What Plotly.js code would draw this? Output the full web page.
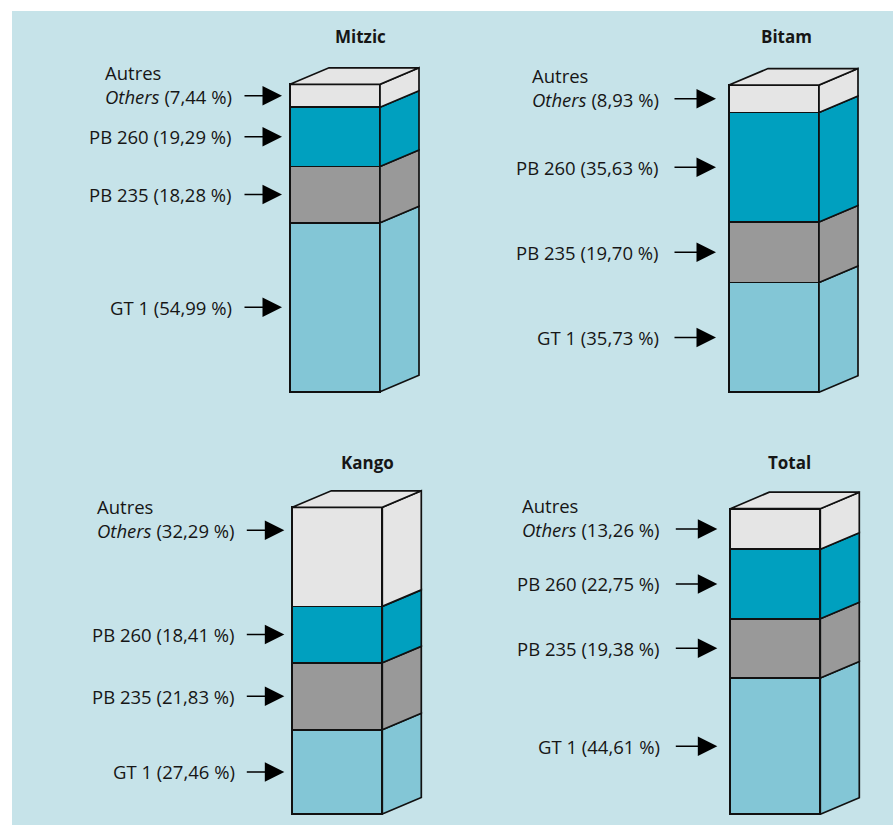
<!DOCTYPE html>
<html>
<head>
<meta charset="utf-8">
<script src="https://cdn.plot.ly/plotly-3.0.1.min.js"></script>
<style>html,body{margin:0;padding:0;background:#fff;}#chart{width:893px;height:825px;}</style>
</head>
<body>
<div id="chart"></div>
<script>
// ---- Data ----
const sites = ['Mitzic', 'Bitam', 'Kango', 'Total'];
const seriesNames = ['GT 1', 'PB 235', 'PB 260', 'Autres'];
const gt1    = [54.99, 35.73, 27.46, 44.61];
const pb235  = [18.28, 19.70, 21.83, 19.38];
const pb260  = [19.29, 35.63, 18.41, 22.75];
const autres = [7.44, 8.93, 32.29, 13.26];

// ---- Styles / layout constants (pixels) ----
const W = 893, H = 825;
const colors = ['#83c6d6', '#999999', '#00a0bf', '#e5e5e5'];
const topColor = '#e5e5e5';
const bgColor = '#c6e3e9';
const txtColor = '#161616';
const FONT = 'Open Sans, Noto Sans, sans-serif';
const LABEL_SIZE = 18.5;
const barW = 90, depthX = 39, depthY = 16.5;
const panels = [
  {domX: [12, 446], domY: [11, 418], bx: 290,   bottom: 391.7, top: 84.3,  title: [360, 37],  tip: 8,  len: 39, gap: 9},
  {domX: [446, 893], domY: [11, 418], bx: 729,   bottom: 392.3, top: 85,    title: [786, 37],  tip: 13, len: 43, gap: 12},
  {domX: [12, 446], domY: [418, 825], bx: 292.3, bottom: 814,   top: 507.3, title: [367, 462], tip: 8,  len: 39, gap: 8},
  {domX: [446, 893], domY: [418, 825], bx: 730.3, bottom: 814.3, top: 508.7, title: [789, 462], tip: 13, len: 43, gap: 12}
];

const seriesVals = [gt1, pb235, pb260, autres];
const fmt = v => v.toFixed(2).replace('.', ',') + ' %';

const traces = [];
const annotations = [];
const layout = {
  width: W, height: H,
  margin: {l: 0, r: 0, t: 0, b: 0},
  paper_bgcolor: '#ffffff',
  plot_bgcolor: 'rgba(0,0,0,0)',
  barmode: 'stack',
  showlegend: false,
  shapes: [{type: 'rect', xref: 'paper', yref: 'paper', layer: 'below',
            x0: 12 / W, x1: 1, y0: 0, y1: 1 - 11 / H,
            fillcolor: bgColor, line: {width: 0}}],
  annotations: annotations
};

panels.forEach((p, i) => {
  const n = i + 1;
  const xa = 'x' + (n === 1 ? '' : n), ya = 'y' + (n === 1 ? '' : n);
  const xk = 'xaxis' + (n === 1 ? '' : n), yk = 'yaxis' + (n === 1 ? '' : n);
  const sy = (p.bottom - p.top) / 100; // px per percent
  const dxu = depthX / barW, dyu = depthY / sy;
  layout[xk] = {domain: [p.domX[0] / W, p.domX[1] / W], range: [(p.domX[0] - p.bx) / barW, (p.domX[1] - p.bx) / barW],
                visible: false, fixedrange: true, anchor: ya};
  layout[yk] = {domain: [1 - p.domY[1] / H, 1 - p.domY[0] / H], range: [-(p.domY[1] - p.bottom) / sy, 100 + (p.top - p.domY[0]) / sy],
                visible: false, fixedrange: true, anchor: xa};

  // front faces (stacked bars)
  let base = 0;
  const segs = [];
  seriesVals.forEach((arr, s) => {
    const v = arr[i];
    traces.push({type: 'bar', x: [0.5], y: [v], width: [1], xaxis: xa, yaxis: ya,
      marker: {color: colors[s], line: {color: '#111', width: 1.7}}, hoverinfo: 'skip'});
    segs.push({b: base, t: base + v});
    base += v;
  });
  const total = base;
  // side faces
  segs.forEach((sg, s) => {
    traces.push({type: 'scatter', mode: 'lines', xaxis: xa, yaxis: ya, fill: 'toself', fillcolor: colors[s],
      x: [1, 1 + dxu, 1 + dxu, 1, 1], y: [sg.b, sg.b + dyu, sg.t + dyu, sg.t, sg.b],
      line: {color: '#111', width: 1.7}, hoverinfo: 'skip'});
  });
  // top face
  traces.push({type: 'scatter', mode: 'lines', xaxis: xa, yaxis: ya, fill: 'toself', fillcolor: topColor,
    x: [0, dxu, 1 + dxu, 1, 0], y: [total, total + dyu, total + dyu, total, total],
    line: {color: '#111', width: 1.7}, hoverinfo: 'skip'});

  // labels + arrows
  const tipX = -p.tip / barW;
  segs.forEach((sg, s) => {
    let yc = (sg.b + sg.t) / 2;
    if (s === segs.length - 1) yc = Math.max(yc, total - 23 / sy);
    annotations.push({xref: xa, yref: ya, x: tipX, y: yc, ax: -p.len, ay: 0, axref: 'pixel', ayref: 'pixel',
      text: '', showarrow: true, arrowhead: 2, arrowsize: 2.6, arrowwidth: 1.5, arrowcolor: '#000'});
    const v = seriesVals[s][i];
    const isOther = s === segs.length - 1;
    const txt = isOther ? 'Autres<br><i>Others</i> (' + fmt(v) + ')' : seriesNames[s] + ' (' + fmt(v) + ')';
    annotations.push({xref: xa, yref: ya, x: tipX - (p.len + p.gap) / barW, y: yc, xanchor: 'right', yanchor: 'middle',
      yshift: isOther ? 11.5 : 0, align: 'left', showarrow: false, text: txt,
      font: {family: FONT, size: LABEL_SIZE, color: txtColor}});
  });
  // title
  annotations.push({xref: 'paper', yref: 'paper', x: p.title[0] / W, y: 1 - p.title[1] / H, xanchor: 'center', yanchor: 'middle',
    showarrow: false, text: '<b>' + sites[i] + '</b>', font: {family: FONT, size: 17, color: txtColor}});
});

Plotly.newPlot('chart', traces, layout, {staticPlot: true, displayModeBar: false});
</script>
</body>
</html>
